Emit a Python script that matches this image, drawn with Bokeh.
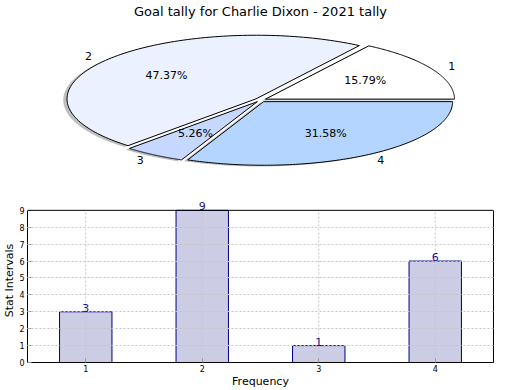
import numpy as np
from bokeh.plotting import figure
from bokeh.layouts import column
from bokeh.models import Range1d, FixedTicker, ColumnDataSource, LabelSet, LinearAxis, Span
from bokeh.embed import file_html
from bokeh.resources import INLINE
from bokeh.core.properties import value

# ---------------- data ----------------
title_text = "Goal tally for Charlie Dixon - 2021 tally"
categories = ["1", "2", "3", "4"]
counts = [3, 9, 1, 6]
explode = [0.03, 0.03, 0.03, 0.03]
slice_colors = ["#FFFFFF", "#EBF1FE", "#C6D8FF", "#B3D5FF"]
y_ticks = [0, 1, 2, 3, 4, 5, 6, 7, 8, 9]
x_label = "Frequency"
y_label = "Stat Intervals"

FONT = "DejaVu Sans"

# ---------------- pie ----------------
total = float(sum(counts))
fracs = np.array(counts, dtype=float) / total
bounds = np.concatenate([[0.0], np.cumsum(fracs)]) * 2 * np.pi

RX, RY = 189.0, 64.0
T = 18.0
H1 = 190
FL, FR = 27.0, 493.0   # frame edges (aligned with the bar chart's frame by the column layout)
pie = figure(width=520, height=H1,
             x_range=Range1d(-(260 - FL) / RX, (FR - 260) / RX),
             y_range=Range1d(-(H1 - 99) / RY, (99 - T) / RY),
             x_axis_location=None, y_axis_location=None,
             output_backend="svg", toolbar_location=None,
             min_border=0, min_border_left=0, min_border_right=0,
             min_border_top=0, min_border_bottom=0)
pie.grid.visible = False
pie.outline_line_color = None
pie.title.text = title_text
pie.title.align = "center"
pie.title.text_font = FONT
pie.title.text_font_size = "13px"
pie.title.text_font_style = "normal"
pie.title.text_color = "black"
pie.title.standoff = 2

wx, wy, sx, sy = [], [], [], []
lab_x, lab_y, lab_align = [], [], []
pct_x, pct_y, pct_text = [], [], []
for i in range(len(counts)):
    t = np.linspace(bounds[i], bounds[i + 1], 120)
    mid = 0.5 * (bounds[i] + bounds[i + 1])
    cx = explode[i] * np.cos(mid)
    cy = explode[i] * np.sin(mid)
    px = np.concatenate([[cx], cx + np.cos(t), [cx]])
    py = np.concatenate([[cy], cy + np.sin(t), [cy]])
    wx.append(list(px)); wy.append(list(py))
    sx.append(list(px - 0.02)); sy.append(list(py - 0.02))
    lab_x.append(cx + 1.1 * np.cos(mid)); lab_y.append(cy + 1.1 * np.sin(mid))
    lab_align.append("left" if np.cos(mid) > 0 else "right")
    pct_x.append(cx + 0.6 * np.cos(mid)); pct_y.append(cy + 0.6 * np.sin(mid))
    pct_text.append("%.2f%%" % (100 * fracs[i]))

pie.patches(sx, sy, fill_color="#808080", fill_alpha=0.5, line_color=None)
pie.patches(wx, wy, fill_color=slice_colors, line_color="black", line_width=1)

for i in range(len(counts)):
    pie.text(x=[lab_x[i]], y=[lab_y[i]], text=[categories[i]],
             text_align=lab_align[i], text_baseline="middle",
             text_font=value(FONT), text_font_size="11px", text_color="black")
pie.text(x=pct_x, y=pct_y, text=pct_text, text_align="center", text_baseline="middle",
         text_font=value(FONT), text_font_size="11px", text_color="black")

# ---------------- bars ----------------
x_vals = [int(c) for c in categories]
y_top = y_ticks[-1]
bar = figure(width=520, height=390 - H1,
             x_range=Range1d(0.5, 4.5), y_range=Range1d(0, y_top + 0.7),
             output_backend="svg", toolbar_location=None,
             min_border_left=25, min_border_right=27, min_border_top=8, min_border_bottom=0)
bar.outline_line_color = None

src = ColumnDataSource(dict(x=x_vals, top=counts, lab=[str(c) for c in counts]))
bar.vbar(x="x", top="top", width=0.45, source=src,
         fill_color="#CCCCE5", line_color="#000080", line_width=1)

# dotted grid (horizontal from axis grid, vertical as segments limited to the box)
bar.xgrid.visible = False
bar.ygrid.ticker = FixedTicker(ticks=y_ticks[1:-1])
bar.ygrid.grid_line_color = "#c4c4c4"
bar.ygrid.grid_line_dash = "2 2"
bar.ygrid.level = "guide"
bar.segment(x0=x_vals, y0=[0] * len(x_vals), x1=x_vals, y1=[y_top] * len(x_vals),
            line_color="#c4c4c4", line_dash="2 2", line_width=1, level="guide")

bar.add_layout(LabelSet(x="x", y="top", text="lab", source=src,
                        text_align="center", text_baseline="alphabetic", y_offset=0,
                        text_font=value(FONT), text_font_size="11px", text_color="#141490"))

bar.xaxis.ticker = FixedTicker(ticks=x_vals)
bar.xaxis.major_label_overrides = {v: c for v, c in zip(x_vals, categories)}
bar.yaxis.ticker = FixedTicker(ticks=y_ticks)
bar.yaxis.bounds = (0, y_top)
bar.xaxis.axis_label = x_label
bar.yaxis.axis_label = y_label
for ax in (bar.xaxis[0], bar.yaxis[0]):
    ax.axis_label_text_font = FONT
    ax.axis_label_text_font_size = "11px"
    ax.axis_label_text_font_style = "normal"
    ax.axis_label_text_color = "black"
    ax.axis_label_standoff = 0
    ax.major_label_text_font = FONT
    ax.major_label_text_font_size = "8px"
    ax.major_label_text_color = "black"
    ax.major_label_standoff = 3
    ax.major_tick_in = 4
    ax.major_tick_out = 0
    ax.major_tick_line_color = "#999999"
    ax.minor_tick_line_color = None
    ax.axis_line_color = "black"
bar.xaxis.major_label_standoff = 2

right_ax = LinearAxis(ticker=FixedTicker(ticks=[]), bounds=(0, y_top),
                      axis_line_color="black", major_tick_line_color=None,
                      minor_tick_line_color=None)
bar.add_layout(right_ax, "right")
bar.add_layout(Span(location=y_top, dimension="width", line_color="black", line_width=1))

layout = column(pie, bar, spacing=0)
open("out.html", "w").write(file_html(layout, INLINE))
